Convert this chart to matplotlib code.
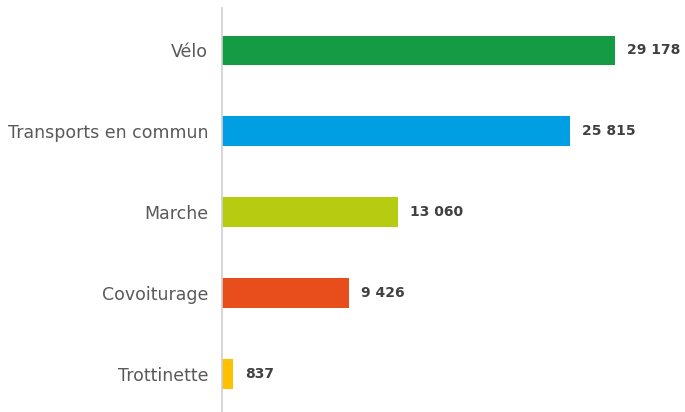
import matplotlib
matplotlib.use("Agg")
import matplotlib.pyplot as plt

categories = ["Vélo", "Transports en commun", "Marche", "Covoiturage", "Trottinette"]
values = [29178, 25815, 13060, 9426, 837]
colors = ["#169B45", "#009FE3", "#B5CC10", "#E84E1B", "#FFC000"]

fig = plt.figure(figsize=(6.85, 4.12), dpi=100)
ax = fig.add_axes([222 / 685, 0.0, 1 - 222 / 685, 1 - 8 / 412])

y = list(range(len(categories)))
ax.barh(y, values, height=0.36, color=colors)

for yi, v in zip(y, values):
    label = f"{v:,}".replace(",", " ")
    ax.annotate(label, (v, yi), xytext=(8.5, 0), textcoords="offset points",
                va="center", ha="left", fontsize=10, fontweight="bold", color="#404040")

ax.set_xlim(0, 34375)
ax.set_ylim(4.47, -0.52)
ax.set_yticks(y)
ax.set_yticklabels(categories, fontsize=12.5, color="#595959")
ax.tick_params(axis="y", length=0, pad=10)
ax.set_xticks([])
for s in ["top", "right", "bottom"]:
    ax.spines[s].set_visible(False)
ax.spines["left"].set_color("#D0D0D0")
ax.spines["left"].set_linewidth(1.2)

fig.savefig("out.png", dpi=100)
